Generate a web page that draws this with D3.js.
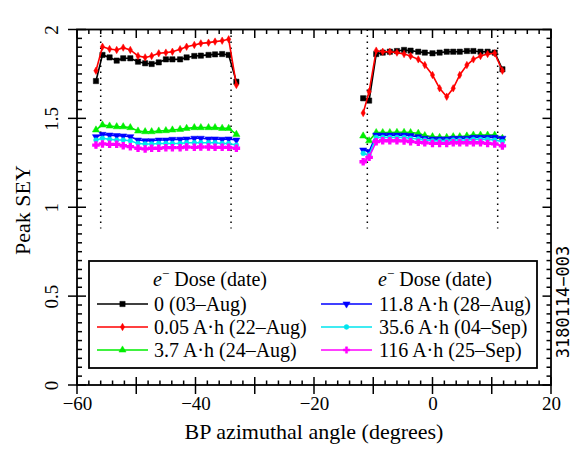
<!DOCTYPE html>
<html>
<head>
<meta charset="utf-8">
<script src="https://cdn.jsdelivr.net/npm/d3@7"></script>
<style>
body { margin: 0; background: #fff; }
text { font-family: "Liberation Serif", "Times New Roman", serif; fill: #000; }
.domain { display: none; }
</style>
</head>
<body>
<div class="vizcontainer"></div>
<script>
// angles (degrees) of the two scans
const leftAngles = [-56.8, -55.7, -54.5, -53.3, -52.2, -51.0, -49.7, -48.5, -47.4, -46.2, -45.0,
  -43.9, -42.6, -41.5, -40.2, -39.1, -37.8, -36.7, -35.5, -34.4, -33.1];
const rightAngles = [-11.7, -10.7, -9.5, -8.4, -7.2, -6.0, -4.8, -3.7, -2.4, -1.3, 0.0,
  1.2, 2.4, 3.5, 4.6, 5.8, 6.9, 8.1, 9.3, 10.5, 11.8];

const seriesNames = ["0 (03\u2013Aug)", "0.05 A\u00b7h (22\u2013Aug)", "3.7 A\u00b7h (24\u2013Aug)",
  "11.8 A\u00b7h (28\u2013Aug)", "35.6 A\u00b7h (04\u2013Sep)", "116 A\u00b7h (25\u2013Sep)"];

const dose0Left = [1.71, 1.857, 1.843, 1.825, 1.838, 1.838, 1.819, 1.81, 1.806, 1.815, 1.832,
  1.832, 1.832, 1.843, 1.851, 1.853, 1.857, 1.86, 1.862, 1.857, 1.706];
const dose0Right = [1.613, 1.6, 1.862, 1.87, 1.875, 1.879, 1.885, 1.881, 1.875, 1.87, 1.866,
  1.87, 1.875, 1.875, 1.875, 1.879, 1.879, 1.875, 1.875, 1.87, 1.776];
const dose005Left = [1.768, 1.903, 1.89, 1.885, 1.898, 1.885, 1.851, 1.843, 1.851, 1.866, 1.87,
  1.875, 1.889, 1.903, 1.913, 1.922, 1.926, 1.932, 1.937, 1.945, 1.688];
const dose005Right = [1.53, 1.65, 1.881, 1.875, 1.875, 1.87, 1.862, 1.851, 1.832, 1.8, 1.744,
  1.669, 1.622, 1.669, 1.744, 1.8, 1.832, 1.851, 1.862, 1.866, 1.768];
const dose37Left = [1.435, 1.463, 1.457, 1.453, 1.453, 1.448, 1.429, 1.425, 1.425, 1.429, 1.431,
  1.435, 1.438, 1.444, 1.448, 1.448, 1.448, 1.448, 1.444, 1.444, 1.41];
const dose37Right = [1.401, 1.374, 1.42, 1.42, 1.42, 1.421, 1.421, 1.42, 1.416, 1.403, 1.397,
  1.393, 1.393, 1.397, 1.397, 1.401, 1.406, 1.406, 1.406, 1.406, 1.388];
const dose118Left = [1.397, 1.41, 1.406, 1.403, 1.401, 1.397, 1.378, 1.374, 1.374, 1.378, 1.378,
  1.382, 1.382, 1.384, 1.388, 1.388, 1.384, 1.384, 1.382, 1.384, 1.378];
const dose118Right = [1.322, 1.313, 1.406, 1.406, 1.406, 1.406, 1.406, 1.403, 1.397, 1.388, 1.384,
  1.384, 1.384, 1.388, 1.388, 1.388, 1.393, 1.393, 1.393, 1.393, 1.388];
const dose356Left = [1.378, 1.388, 1.382, 1.378, 1.378, 1.374, 1.359, 1.356, 1.356, 1.359, 1.359,
  1.359, 1.359, 1.363, 1.363, 1.363, 1.363, 1.363, 1.359, 1.359, 1.35];
const dose356Right = [1.303, 1.294, 1.393, 1.393, 1.393, 1.393, 1.393, 1.388, 1.384, 1.378, 1.374,
  1.374, 1.374, 1.378, 1.378, 1.378, 1.382, 1.382, 1.382, 1.378, 1.369];
const dose116Left = [1.35, 1.356, 1.354, 1.354, 1.346, 1.341, 1.332, 1.328, 1.332, 1.332, 1.335,
  1.335, 1.335, 1.339, 1.337, 1.339, 1.339, 1.337, 1.337, 1.337, 1.332];
const dose116Right = [1.256, 1.281, 1.369, 1.374, 1.374, 1.374, 1.373, 1.369, 1.365, 1.363, 1.359,
  1.359, 1.359, 1.363, 1.363, 1.363, 1.363, 1.363, 1.359, 1.356, 1.345];

// vertical dotted guides
const guideAngles = [-56, -34, -11, 11];
const guideLow = 0.88;

const xTickLabels = [-60, -40, -20, 0, 20];
const yTickLabels = [0, 0.5, 1, 1.5, 2];

const seriesLeft = [dose0Left, dose005Left, dose37Left, dose118Left, dose356Left, dose116Left];
const seriesRight = [dose0Right, dose005Right, dose37Right, dose118Right, dose356Right, dose116Right];
const colors = ["#000000", "#ff0000", "#00ee00", "#0000ff", "#00e5ee", "#ff00ff"];
const symbols = [
  { type: d3.symbolSquare, size: 28, rot: 0 },
  { type: d3.symbolDiamond, size: 16, rot: 0 },
  { type: d3.symbolTriangle, size: 22, rot: 0 },
  { type: d3.symbolTriangle, size: 22, rot: 180 },
  { type: d3.symbolCircle, size: 18, rot: 0 },
  { type: d3.symbolCross, size: 22, rot: 0 }
];

const W = 581, H = 463;
const plot = { left: 77, right: 551, top: 29.5, bottom: 385 };

const svg = d3.select(".vizcontainer").append("svg")
  .attr("width", W).attr("height", H);

const x = d3.scaleLinear().domain([-60, 20]).range([plot.left, plot.right]);
const y = d3.scaleLinear().domain([0, 2]).range([plot.bottom, plot.top]);

// frame
svg.append("rect")
  .attr("x", plot.left).attr("y", plot.top)
  .attr("width", plot.right - plot.left).attr("height", plot.bottom - plot.top)
  .attr("fill", "none").attr("stroke", "#000").attr("stroke-width", 1.8);

// ticks all round
const isMajorX = v => Math.abs(v / 10 - Math.round(v / 10)) < 1e-6;
const isMajorY = v => Math.abs(v / 0.5 - Math.round(v / 0.5)) < 1e-6;
const tk = svg.append("g").attr("stroke", "#000").attr("stroke-width", 1.5);
d3.range(-60, 20.01, 2).forEach(v => {
  const px = x(v), maj = isMajorX(v);
  tk.append("line").attr("x1", px).attr("x2", px)
    .attr("y1", plot.bottom + (maj ? 9 : 0)).attr("y2", plot.bottom - (maj ? 8 : 4.5));
  tk.append("line").attr("x1", px).attr("x2", px)
    .attr("y1", plot.top).attr("y2", plot.top + (maj ? 8.5 : 4.5));
});
d3.range(0, 2.001, 0.05).forEach(v => {
  const py = y(v), maj = isMajorY(v);
  tk.append("line").attr("y1", py).attr("y2", py)
    .attr("x1", plot.left - (maj ? 9 : 0)).attr("x2", plot.left + (maj ? 9 : 5));
  tk.append("line").attr("y1", py).attr("y2", py)
    .attr("x1", plot.right).attr("x2", plot.right - (maj ? 8.5 : 4.5));
});

// axis labels
svg.append("g")
  .attr("transform", "translate(0," + plot.bottom + ")")
  .call(d3.axisBottom(x).tickValues(xTickLabels).tickSize(0).tickPadding(12))
  .call(g => g.selectAll("text").attr("font-size", 19).attr("font-family", null));

svg.append("g")
  .attr("transform", "translate(" + plot.left + ",0)")
  .call(d3.axisLeft(y).tickValues(yTickLabels).tickSize(0).tickFormat(d => String(d)))
  .call(g => g.selectAll("text")
    .attr("font-size", 19).attr("font-family", null)
    .attr("x", 0).attr("dy", 0).attr("text-anchor", "middle")
    .attr("transform", "translate(-19,0) rotate(-90)"));

svg.append("text")
  .attr("x", (plot.left + plot.right) / 2).attr("y", 439)
  .attr("text-anchor", "middle").attr("font-size", 22)
  .text("BP azimuthal angle (degrees)");

svg.append("text")
  .attr("transform", "translate(30,210) rotate(-90)")
  .attr("text-anchor", "middle").attr("font-size", 22)
  .text("Peak SEY");

svg.append("text")
  .attr("transform", "translate(563,302) rotate(-90)")
  .attr("text-anchor", "middle").attr("dominant-baseline", "central")
  .style("font-family", "'DejaVu Sans Mono', monospace").attr("font-size", 17)
  .text("3180114\u2212003");

// dotted guides
svg.append("g").selectAll("line")
  .data(guideAngles).enter().append("line")
  .attr("x1", d => x(d)).attr("x2", d => x(d))
  .attr("y1", y(2)).attr("y2", y(guideLow))
  .attr("stroke", "#000").attr("stroke-width", 1.5)
  .attr("stroke-dasharray", "1.5,4.5");

// series
const line = d3.line().x(d => x(d[0])).y(d => y(d[1]));
const symbolPath = (s) => d3.symbol().type(s.type).size(s.size)();

seriesLeft.forEach((vals, i) => {
  [[leftAngles, vals], [rightAngles, seriesRight[i]]].forEach(([angles, v]) => {
    const pts = angles.map((a, j) => [a, v[j]]);
    const g = svg.append("g");
    g.append("path").datum(pts).attr("d", line)
      .attr("fill", "none").attr("stroke", colors[i]).attr("stroke-width", 1.6);
    g.selectAll("path.m").data(pts).enter().append("path")
      .attr("class", "m")
      .attr("d", symbolPath(symbols[i]))
      .attr("transform", d => "translate(" + x(d[0]) + "," + y(d[1]) + ") rotate(" + symbols[i].rot + ")")
      .attr("fill", colors[i]).attr("stroke", colors[i]).attr("stroke-width", i === 5 ? 1.2 : 0.5);
  });
});

// legend
const legend = svg.append("g").attr("id", "legend");
legend.append("rect")
  .attr("x", 89).attr("y", 261).attr("width", 448).attr("height", 107)
  .attr("fill", "#fff").attr("stroke", "#000").attr("stroke-width", 1.8);

const cols = [{ lx: 97, tx: 154 }, { lx: 321, tx: 379 }];
cols.forEach(c => {
  const h = legend.append("text").attr("x", c.tx - 1).attr("y", 286).attr("font-size", 20);
  h.append("tspan").attr("font-style", "italic").text("e");
  h.append("tspan").attr("font-size", 13).attr("dy", -8).text("\u2212");
  h.append("tspan").attr("dy", 8).text(" Dose (date)");
});

seriesNames.forEach((name, i) => {
  const c = cols[Math.floor(i / 3)];
  const cy = 304 + (i % 3) * 23;
  legend.append("line")
    .attr("x1", c.lx).attr("x2", c.lx + 51).attr("y1", cy).attr("y2", cy)
    .attr("stroke", colors[i]).attr("stroke-width", 1.6);
  legend.append("path")
    .attr("d", symbolPath(symbols[i]))
    .attr("transform", "translate(" + (c.lx + 25.5) + "," + cy + ") rotate(" + symbols[i].rot + ")")
    .attr("fill", colors[i]).attr("stroke", colors[i]).attr("stroke-width", 0.5);
  legend.append("text")
    .attr("x", c.tx).attr("y", cy + 6.5).attr("font-size", 20)
    .text(name);
});
</script>
</body>
</html>
